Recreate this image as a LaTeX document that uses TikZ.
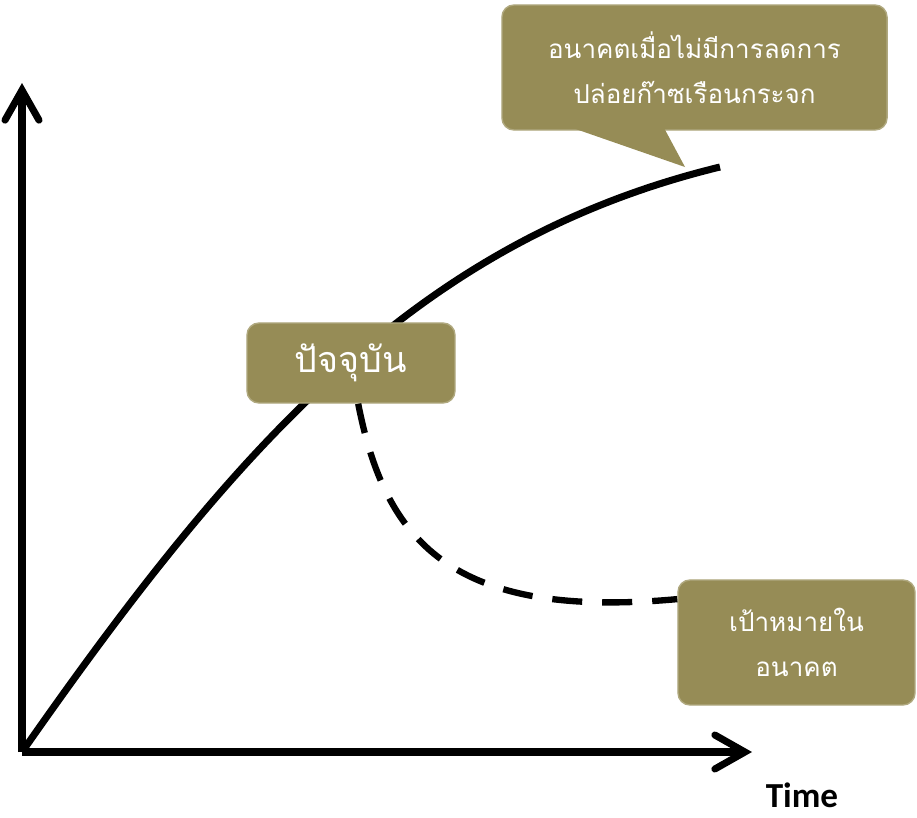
\documentclass[tikz,border=0pt]{standalone}
\usepackage{fontspec}
\newfontfamily\thaifont[Script=Thai]{Loma}
\setsansfont{Carlito}
\usetikzlibrary{arrows.meta}
\definecolor{olivebox}{HTML}{968C56}

\begin{document}
\begin{tikzpicture}[x=0.025cm, y=-0.025cm,
    box/.style={fill=olivebox, draw=olivebox!75!white, line width=1pt, rounded corners=0.3cm,
        text=white, align=center, inner sep=0pt, font=\thaifont\fontsize{18.5}{32}\selectfont},
    axis/.style={line width=5pt, -{Straight Barb[length=0.75cm, width=0.85cm, line cap=round]}}]
    \useasboundingbox (0,0) rectangle (917,818);
    \coordinate (origin) at (22,752);
    \coordinate (ytop) at (22,83);
    \coordinate (xend) at (752,752);
    \coordinate (curveend) at (720,167);
    \coordinate (tip) at (685,167);
    \draw[axis] (origin) -- (ytop);
    \draw[axis] (origin) -- (xend);
    \draw[line width=5pt] (origin) .. controls (240,440) and (420,240) .. (curveend);
    \node[box, minimum width=5.2cm, minimum height=2cm, font=\thaifont\fontsize{25.5}{30}\selectfont]
        (now) at (351,363) {ปัจจุบัน};
    \node[box, minimum width=9.625cm, minimum height=3.125cm] (future) at (694.5,67.5)
        {อนาคตเมื่อไม่มีการลดการ\\ปล่อยก๊าซเรือนกระจก};
    \fill[olivebox] (567,126) -- (tip) -- (663,126) -- cycle;
    \node[box, minimum width=5.925cm, minimum height=3.125cm] (target) at (796.5,642.5)
        {เป้าหมายใน\\อนาคต};
    \draw[line width=4.5pt, dash pattern=on 0.75cm off 0.5cm] (now.-80) .. controls (385,540) and (450,620) .. (target.160);
    \node[inner sep=0pt, font=\sffamily\bfseries\fontsize{25}{30}\selectfont] (time) at (802,795) {Time};
\end{tikzpicture}
\end{document}
